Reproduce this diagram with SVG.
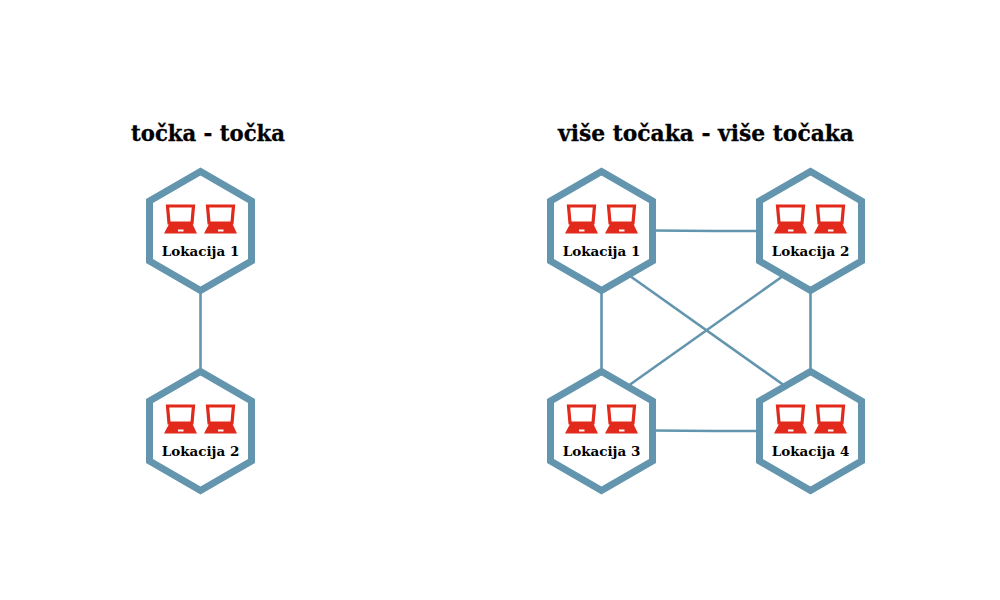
<svg xmlns="http://www.w3.org/2000/svg" width="1000" height="600" viewBox="0 0 1000 600">
<style>
.hex{fill:#fff;stroke:#6396ae;stroke-width:7;stroke-linejoin:miter}
.lnk{fill:none;stroke:#6396ae;stroke-width:2.600}
.lbl{font-family:"DejaVu Serif","Liberation Serif",serif;font-weight:700;font-size:13.5px;text-anchor:middle;fill:#000}
.ttl{font-family:"DejaVu Serif","Liberation Serif",serif;font-weight:700;font-size:21.500px;fill:#000;stroke:#000;stroke-width:.3}
</style>
<defs>
<g id="laptop">
<path d="M-33-25H-7L-8.500-8H-31.500Z" fill="#fff" stroke="#e1291c" stroke-width="3.200"/>
<path d="M-31.500-7H-8L-3.500 2.500H-36.500Z" fill="#e1291c"/>
<rect x="-22.500" y="-1.500" width="5.500" height="2" fill="#fff"/>
</g>
<g id="node-shape">
<path class="hex" d="M0-59.500L51 -30V30L0 59.500L-51 30V-30Z"/>
<use href="#laptop" transform="translate(0 0)"/>
<use href="#laptop" transform="translate(40 0)"/>
</g>
</defs>
<g id="connectors">
<path class="lnk" d="M200.500 288V373"/>
<path class="lnk" d="M652 230.500L715 231H760"/>
<path class="lnk" d="M652 430.500L715 431H760"/>
<path class="lnk" d="M601.500 288V373"/>
<path class="lnk" d="M810.500 288V373"/>
<path class="lnk" d="M630 276L785 386"/>
<path class="lnk" d="M783 276L628 386"/>
</g>
<text class="ttl" x="131" y="141" textLength="154" lengthAdjust="spacingAndGlyphs">točka - točka</text>
<text class="ttl" x="558" y="141" textLength="296" lengthAdjust="spacingAndGlyphs">više točaka - više točaka</text>
<g id="n1"><use href="#node-shape" transform="translate(200.500 231)"/><text class="lbl" x="200.500" y="256">Lokacija 1</text></g>
<g id="n2"><use href="#node-shape" transform="translate(200.500 431)"/><text class="lbl" x="200.500" y="456">Lokacija 2</text></g>
<g id="n3"><use href="#node-shape" transform="translate(601.500 231)"/><text class="lbl" x="601.500" y="256">Lokacija 1</text></g>
<g id="n4"><use href="#node-shape" transform="translate(810.500 231)"/><text class="lbl" x="810.500" y="256">Lokacija 2</text></g>
<g id="n5"><use href="#node-shape" transform="translate(601.500 431)"/><text class="lbl" x="601.500" y="456">Lokacija 3</text></g>
<g id="n6"><use href="#node-shape" transform="translate(810.500 431)"/><text class="lbl" x="810.500" y="456">Lokacija 4</text></g>
</svg>
